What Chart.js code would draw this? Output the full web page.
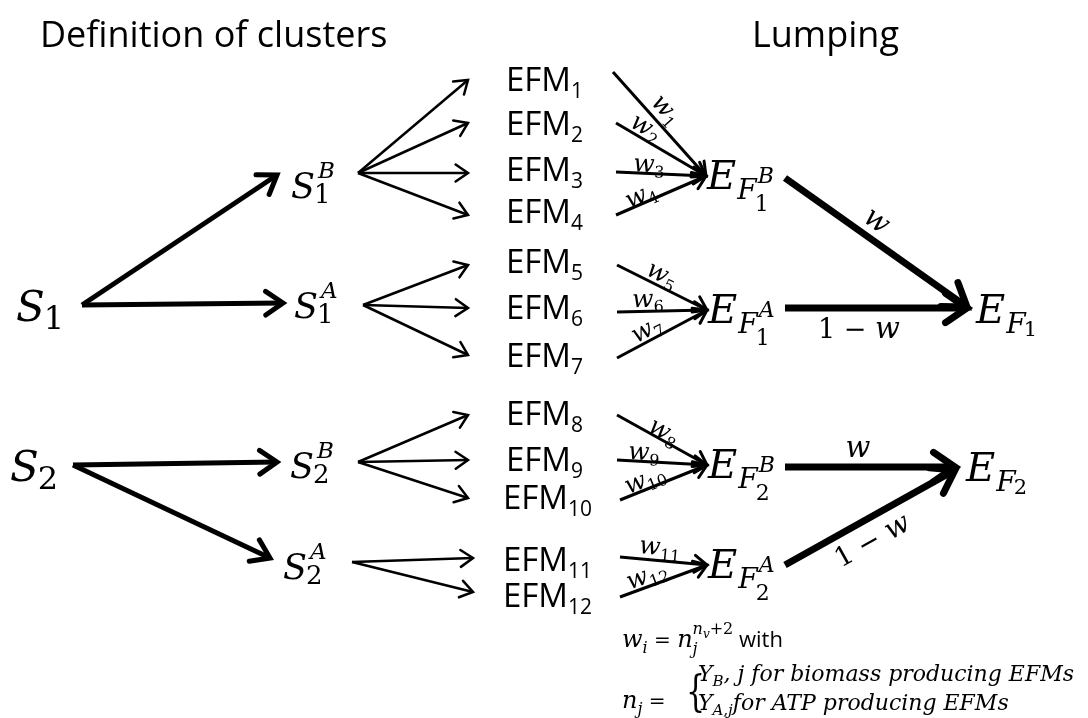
<!DOCTYPE html>
<html>
<head>
<meta charset="utf-8">
<script src="https://cdn.jsdelivr.net/npm/chart.js@4/dist/chart.umd.min.js"></script>
<style>
  html, body { margin: 0; padding: 0; background: #fff; }
  #wrap { width: 1088px; height: 718px; }
</style>
</head>
<body>
<div id="wrap"><canvas id="diagram" width="1088" height="718"></canvas></div>
<script>
'use strict';

// Diagram coordinates are chart units: x 0..1088, y 0..718 counted from the top

// Titles
var titles = ['Definition of clusters', 'Lumping'];

// Math nodes (x = left edge of the letter, y = baseline)
var nodeNames = ['S1', 'S1B', 'S1A', 'S2', 'S2B', 'S2A', 'EF1B', 'EF1A', 'EF2B', 'EF2A', 'EF1', 'EF2'];
var nodeX = [16, 291, 294, 10, 290, 283, 707, 708, 708, 708, 976, 966];
var nodeY = [321, 198, 318, 481, 478, 579, 189, 323, 478, 578, 323, 481];

// EFM column
var efmNumbers = [1, 2, 3, 4, 5, 6, 7, 8, 9, 10, 11, 12];
var efmY = [91, 135, 181, 223, 273, 319, 367, 425, 471, 509, 571, 607];

// Thick arrows : S -> S^X and E_F^X -> E_F
var thickFrom = [[82, 305], [82, 305], [73, 465], [73, 465], [785, 178], [785, 308], [785, 467], [785, 565]];
var thickTo = [[277, 175], [283, 303], [277, 462], [270, 558], [967, 307], [967, 308], [955, 467], [955, 470]];
var thickLabels = ['', '', '', '', 'w', '1 − w', 'w', '1 − w'];
var thickLabelX = [0, 0, 0, 0, 876, 859, 858, 873];
var thickLabelY = [0, 0, 0, 0, 222, 331, 450, 542];

// Thin arrows : S^X -> EFM
var fanFrom = [[358, 173], [358, 173], [358, 173], [358, 173], [363, 305], [363, 305], [363, 305],
  [358, 462], [358, 462], [358, 462], [352, 562], [352, 562]];
var fanTo = [[468, 80], [468, 123], [468, 173], [468, 215], [468, 265], [468, 308], [468, 355],
  [468, 415], [468, 460], [468, 498], [473, 558], [473, 592]];

// Lumping arrows : EFM -> E_F^X with weights w_i
var lumpFrom = [[613, 72], [616, 123], [616, 172], [616, 215], [617, 265], [617, 312], [617, 358],
  [617, 415], [617, 460], [620, 500], [620, 557], [620, 597]];
var lumpTo = [[706, 176], [706, 176], [706, 176], [706, 176], [707, 310], [707, 310], [707, 310],
  [707, 465], [707, 465], [707, 465], [707, 565], [707, 565]];
var weightNames = ['1', '2', '3', '4', '5', '6', '7', '8', '9', '10', '11', '12'];
var weightX = [666, 646, 649, 641, 662, 648, 647, 664, 644, 645, 660, 647];
var weightY = [110, 128, 165, 196, 275, 300, 330, 432, 453, 480, 548, 576];

var SERIF = '"DejaVu Serif", serif';
var SANS = '"Open Sans", sans-serif';

function f(style, size, fam) {
  return style + ' ' + size + 'px ' + fam;
}

function put(ctx, text, x, y, font) {
  ctx.font = font;
  ctx.fillText(text, x, y);
  return ctx.measureText(text).width;
}

function makeArrow(from, to, width, head) {
  return {
    data: [{x: from[0], y: from[1]}, {x: to[0], y: to[1]}],
    showLine: true,
    borderColor: '#000',
    backgroundColor: '#000',
    borderWidth: width,
    borderCapStyle: 'butt',
    pointRadius: 0,
    pointHoverRadius: 0,
    fill: false,
    headLen: head
  };
}

var datasets = [];
for (var i = 0; i < thickFrom.length; i++) {
  datasets.push(makeArrow(thickFrom[i], thickTo[i], i < 4 ? 5 : 7, i < 4 ? 21 : 26));
}
for (var j = 0; j < fanFrom.length; j++) {
  datasets.push(makeArrow(fanFrom[j], fanTo[j], 2.5, 15));
}
for (var k = 0; k < lumpFrom.length; k++) {
  datasets.push(makeArrow(lumpFrom[k], lumpTo[k], 3, 15));
}

function drawNode(ctx, name, x, y) {
  var w, sx;
  if (name.charAt(0) === 'S') {
    var big = name.length === 2;
    var size = big ? 42 : 35;
    w = put(ctx, 'S', x, y, f('italic', size, SERIF));
    sx = x + w - 1;
    if (big) {
      put(ctx, name.charAt(1), sx, y + 8, f('normal', 32, SERIF));
    } else {
      put(ctx, name.charAt(1), sx, y + 5, f('normal', 26, SERIF));
      put(ctx, name.charAt(2), sx + 4, y - 20, f('italic', 23, SERIF));
    }
  } else {
    w = put(ctx, 'E', x, y, f('italic', 40, SERIF));
    var fx = x + w + 1;
    var fy = y + 10;
    var fw = put(ctx, 'F', fx, fy, f('italic', 28, SERIF));
    sx = fx + fw - 2;
    if (name.length > 3) {
      put(ctx, name.charAt(2), sx, fy + 12, f('normal', 22, SERIF));
      put(ctx, name.charAt(3), sx + 3, fy - 16, f('italic', 22, SERIF));
    } else {
      put(ctx, name.charAt(2), sx, fy + 3, f('normal', 21, SERIF));
    }
  }
}

// text centred on (x, y) and turned by ang
function drawTurned(ctx, parts, x, y, ang) {
  var total = 0;
  parts.forEach(function(p) {
    ctx.font = p.font;
    total += ctx.measureText(p.t).width;
  });
  ctx.save();
  ctx.translate(x, y);
  ctx.rotate(ang);
  var cx = -total / 2;
  parts.forEach(function(p) {
    cx += put(ctx, p.t, cx, 7 + (p.dy || 0), p.font);
  });
  ctx.restore();
}

var diagramPlugin = {
  id: 'diagram',
  afterDatasetsDraw: function(chart) {
    var ctx = chart.ctx;
    var xs = chart.scales.x;
    var ys = chart.scales.y;
    ctx.save();
    ctx.fillStyle = '#000';
    ctx.strokeStyle = '#000';
    ctx.textBaseline = 'alphabetic';

    // arrow heads at the last point of each line
    chart.data.datasets.forEach(function(ds, i) {
      var pts = chart.getDatasetMeta(i).data;
      var a = pts[0];
      var b = pts[pts.length - 1];
      var ang = Math.atan2(b.y - a.y, b.x - a.x);
      var spread = 0.6;
      ctx.lineWidth = ds.borderWidth;
      ctx.lineJoin = 'miter';
      ctx.lineCap = 'round';
      ctx.beginPath();
      ctx.moveTo(b.x - ds.headLen * Math.cos(ang - spread), b.y - ds.headLen * Math.sin(ang - spread));
      ctx.lineTo(b.x, b.y);
      ctx.lineTo(b.x - ds.headLen * Math.cos(ang + spread), b.y - ds.headLen * Math.sin(ang + spread));
      ctx.stroke();
    });

    // titles
    ctx.font = f('normal', 36, SANS);
    ctx.fillText(titles[0], xs.getPixelForValue(40), ys.getPixelForValue(47));
    ctx.fillText(titles[1], xs.getPixelForValue(752), ys.getPixelForValue(47));

    // nodes
    for (var n = 0; n < nodeNames.length; n++) {
      drawNode(ctx, nodeNames[n], xs.getPixelForValue(nodeX[n]), ys.getPixelForValue(nodeY[n]));
    }

    // EFM labels
    for (var m = 0; m < efmNumbers.length; m++) {
      var ex = xs.getPixelForValue(efmNumbers[m] >= 10 ? 503 : 506);
      var ey = ys.getPixelForValue(efmY[m]);
      var ew = put(ctx, 'EFM', ex, ey, f('normal', 33, SANS));
      put(ctx, String(efmNumbers[m]), ex + ew, ey + 7, f('normal', 21, SANS));
    }

    // weights on lumping arrows
    for (var q = 0; q < weightNames.length; q++) {
      var p0 = lumpFrom[q], p1 = lumpTo[q];
      var wa = Math.atan2(ys.getPixelForValue(p1[1]) - ys.getPixelForValue(p0[1]),
        xs.getPixelForValue(p1[0]) - xs.getPixelForValue(p0[0]));
      drawTurned(ctx, [
        {t: 'w', font: f('italic', 25, SERIF)},
        {t: weightNames[q], font: f('normal', 16, SERIF), dy: 5}
      ], xs.getPixelForValue(weightX[q]), ys.getPixelForValue(weightY[q]), wa);
    }

    // labels on the final thick arrows
    for (var r = 0; r < thickLabels.length; r++) {
      if (!thickLabels[r]) continue;
      var t0 = thickFrom[r], t1 = thickTo[r];
      var ta = Math.atan2(ys.getPixelForValue(t1[1]) - ys.getPixelForValue(t0[1]),
        xs.getPixelForValue(t1[0]) - xs.getPixelForValue(t0[0]));
      var parts = thickLabels[r] === 'w' ?
        [{t: 'w', font: f('italic', 29, SERIF)}] :
        [{t: '1 − ', font: f('normal', 27, SERIF)}, {t: 'w', font: f('italic', 29, SERIF)}];
      drawTurned(ctx, parts, xs.getPixelForValue(thickLabelX[r]), ys.getPixelForValue(thickLabelY[r]), ta);
    }

    // formula for the weights
    var fx = xs.getPixelForValue(622);
    var y1 = ys.getPixelForValue(647);
    var cx = fx;
    cx += put(ctx, 'w', cx, y1, f('italic', 24, SERIF));
    cx += put(ctx, 'i', cx, y1 + 6, f('italic', 16, SERIF));
    cx += put(ctx, ' = ', cx, y1, f('normal', 20, SERIF));
    cx += put(ctx, 'n', cx, y1, f('italic', 24, SERIF));
    put(ctx, 'j', cx, y1 + 7, f('italic', 16, SERIF));
    cx += put(ctx, 'n', cx, y1 - 13, f('italic', 16, SERIF));
    cx += put(ctx, 'v', cx, y1 - 9, f('italic', 12, SERIF));
    cx += put(ctx, '+2', cx, y1 - 13, f('normal', 16, SERIF));
    put(ctx, ' with', cx, y1, f('normal', 22, SANS));

    var y2 = ys.getPixelForValue(708);
    cx = fx;
    cx += put(ctx, 'n', cx, y2, f('italic', 24, SERIF));
    cx += put(ctx, 'j', cx, y2 + 6, f('italic', 16, SERIF));
    put(ctx, ' = ', cx, y2, f('normal', 20, SERIF));

    ctx.save();
    ctx.translate(xs.getPixelForValue(686), ys.getPixelForValue(706));
    ctx.scale(1, 1.45);
    put(ctx, '{', 0, 0, f('normal', 30, SERIF));
    ctx.restore();

    var bx = xs.getPixelForValue(698);
    var y3 = ys.getPixelForValue(681);
    cx = bx;
    cx += put(ctx, 'Y', cx, y3, f('italic', 22, SERIF));
    cx += put(ctx, 'B', cx, y3 + 5, f('italic', 15, SERIF));
    put(ctx, ', j for biomass producing EFMs', cx, y3, f('italic', 22, SERIF));
    var y4 = ys.getPixelForValue(710);
    cx = bx;
    cx += put(ctx, 'Y', cx, y4, f('italic', 22, SERIF));
    cx += put(ctx, 'A,j', cx, y4 + 5, f('italic', 15, SERIF));
    put(ctx, 'for ATP producing EFMs', cx, y4, f('italic', 22, SERIF));

    ctx.restore();
  }
};

var ctx = document.getElementById('diagram').getContext('2d');
var diagramChart = new Chart(ctx, { //eslint-disable-line
  type: 'scatter',
  data: { datasets: datasets },
  options: {
    responsive: false,
    animation: false,
    layout: { padding: 0 },
    scales: {
      x: { type: 'linear', min: 0, max: 1088, display: false },
      y: { type: 'linear', min: 0, max: 718, reverse: true, display: false }
    },
    plugins: {
      legend: { display: false },
      tooltip: { enabled: false }
    },
    events: []
  },
  plugins: [diagramPlugin]
});
</script>
</body>
</html>
